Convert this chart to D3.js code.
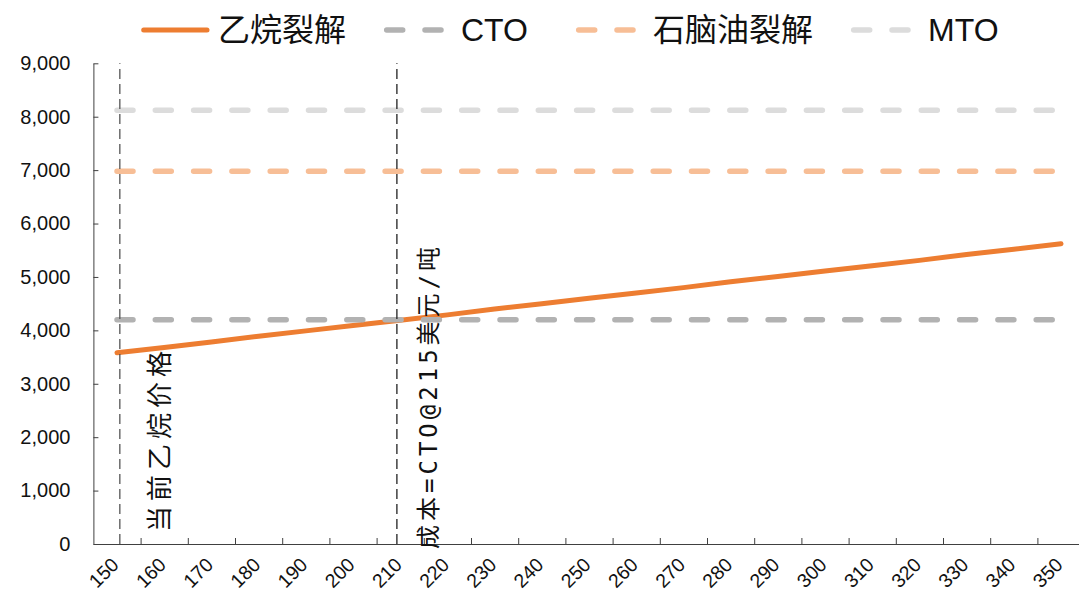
<!DOCTYPE html>
<html>
<head>
<meta charset="utf-8">
<script src="https://cdn.jsdelivr.net/npm/d3@7"></script>
<style>
  body { margin: 0; background: #fff; }
  svg { display: block; font-family: "Liberation Sans", Arial, "Noto Sans CJK SC", sans-serif; }
</style>
</head>
<body>
<script>
// ethane price, USD/t
const categories = [150, 160, 170, 180, 190, 200, 210, 220, 230, 240, 250,
                    260, 270, 280, 290, 300, 310, 320, 330, 340, 350]
// ethylene cost via ethane cracking, yuan/t
const ethaneCost = [3580, 3680, 3780, 3890, 3990, 4090, 4190, 4290, 4400, 4500, 4600,
                    4700, 4800, 4910, 5010, 5110, 5210, 5310, 5420, 5520, 5620]
const ctoCost = 4200
const naphthaCost = 6980
const mtoCost = 8120
const yTicks = [0, 1000, 2000, 3000, 4000, 5000, 6000, 7000, 8000, 9000]
const seriesNames = ["乙烷裂解", "CTO", "石脑油裂解", "MTO"]
const seriesColors = ["#ed7d31", "#b2b2b2", "#f7be96", "#dcdcdc"]
const markerValues = [150.6, 209.3]
const markerLabels = ["当前乙烷价格", "成本=CTO@215美元/吨"]

const width = 1079
const height = 591

const svg = d3.select("body").append("svg")
    .attr("width", width)
    .attr("height", height)

let x = d3.scaleLinear().domain([150, 350]).range([117, 1061])
let y = d3.scaleLinear().domain([0, 9000]).range([544, 63.3])

// axes (category boundaries fall halfway between categories)
let xEdge = x.copy().domain([145, 355]).range([x(145), x(355)])
let yAxis = d3.axisLeft(y)
    .tickValues(yTicks)
    .tickSizeInner(-5)
    .tickSizeOuter(0)
    .tickPadding(23)
    .tickFormat(d3.format(","))
let gy = svg.append("g")
    .attr("transform", "translate(" + x(145) + ",0)")
    .call(yAxis)
gy.selectAll("text").style("font-size", "20px").attr("fill", "#111")
gy.selectAll("line, path").attr("stroke", "#404040")

let xAxis = d3.axisBottom(xEdge)
    .tickValues(categories.map(c => c + 5))
    .tickSizeInner(-6)
    .tickSizeOuter(0)
    .tickFormat("")
let gx = svg.append("g")
    .attr("transform", "translate(0," + y(0) + ")")
    .call(xAxis)
gx.selectAll("line, path").attr("stroke", "#404040")

svg.append("g").selectAll("text")
    .data(categories).enter()
    .append("text")
        .attr("transform", d => "translate(" + (x(d) + 3) + "," + (y(0) + 22) + ") rotate(-45)")
        .attr("text-anchor", "end")
        .style("font-size", "19.5px")
        .attr("fill", "#111")
        .text(d => d)

// series
let line = d3.line().x(d => x(d[0])).y(d => y(d[1]))
let ext = d3.extent(categories)

svg.append("path")
    .datum(categories.map((c, i) => [c, ethaneCost[i]]))
    .attr("d", line)
    .attr("fill", "none")
    .attr("stroke", seriesColors[0])
    .attr("stroke-width", 5)
    .attr("stroke-linecap", "round")

let levels = [ctoCost, naphthaCost, mtoCost]
svg.append("g").selectAll("path")
    .data(levels).enter()
    .append("path")
        .attr("d", d => line([[ext[0], d], [ext[1], d]]))
        .attr("fill", "none")
        .attr("stroke", (d, i) => seriesColors[i + 1])
        .attr("stroke-width", 5.5)
        .attr("stroke-linecap", "round")
        .attr("stroke-dasharray", "16,22.3")

// marker lines and notes
svg.append("g").selectAll("line")
    .data(markerValues).enter()
    .append("line")
        .attr("x1", d => x(d)).attr("x2", d => x(d))
        .attr("y1", y(0)).attr("y2", y(9000))
        .attr("stroke", (d, i) => i == 0 ? "#555" : "#222")
        .attr("stroke-width", 1.3)
        .attr("stroke-dasharray", "10,5")

let noteDx = [49, 40]
let noteBottom = [532, 549]
let noteSize = [26, 24]
let noteSpacing = [5, 4]
svg.append("g").selectAll("text")
    .data(markerLabels).enter()
    .append("text")
        .attr("transform", (d, i) => "translate(" + (x(markerValues[i]) + noteDx[i]) + "," + noteBottom[i] + ") rotate(-90)")
        .style("font-family", "\"DejaVu Sans Mono\", \"Noto Sans CJK SC\", monospace")
        .style("font-size", (d, i) => noteSize[i] + "px")
        .style("letter-spacing", (d, i) => noteSpacing[i] + "px")
        .attr("fill", "#111")
        .text(d => d)

// legend
let legendX = [141, 384, 576, 851]
let legend = svg.append("g").attr("transform", "translate(0,30)")
seriesNames.forEach((name, i) => {
    let item = legend.append("g").attr("transform", "translate(" + legendX[i] + ",0)")
    item.append("line")
        .attr("x1", 2.7).attr("x2", 66)
        .attr("stroke", seriesColors[i])
        .attr("stroke-width", i == 0 ? 5 : 5.5)
        .attr("stroke-linecap", "round")
        .attr("stroke-dasharray", i == 0 ? null : "16,22.3")
    item.append("text")
        .attr("x", 77)
        .attr("y", 11)
        .style("font-size", "32px")
        .attr("fill", "#111")
        .text(name)
})
</script>
</body>
</html>
